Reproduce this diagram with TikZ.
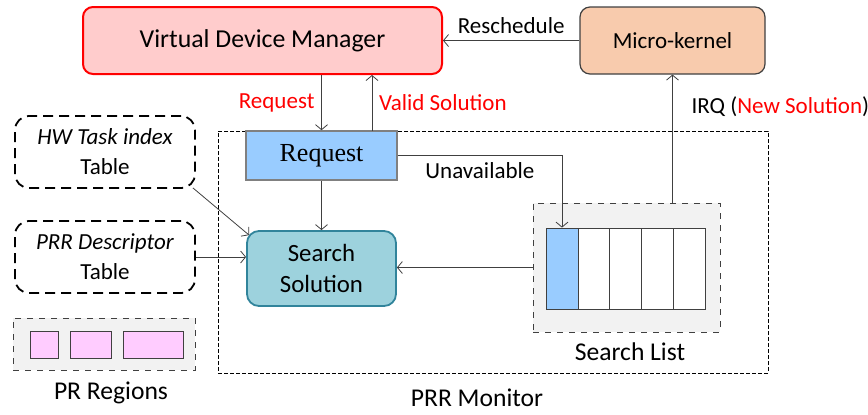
\documentclass[tikz,border=0pt]{standalone}
\usepackage{fontspec}
\setmainfont{Carlito}
\newfontfamily\reqfont{Liberation Serif}
\usetikzlibrary{arrows.meta,positioning}

\definecolor{vdmfill}{HTML}{FFCCCC}
\definecolor{kernfill}{HTML}{F8CBAD}
\definecolor{reqfill}{HTML}{99CCFF}
\definecolor{srchfill}{HTML}{9DD2DD}
\definecolor{srchline}{HTML}{31849B}
\definecolor{panelfill}{HTML}{F2F2F2}
\definecolor{prfill}{HTML}{FFCCFF}
\definecolor{linegray}{HTML}{404040}

\begin{document}
\begin{tikzpicture}[
        x=0.5pt, y=-0.5pt,
        font=\fontsize{11.5}{13}\selectfont,
        box/.style={rectangle, align=center, inner sep=0pt, font=\fontsize{11.5}{15}\selectfont},
        vdmbox/.style={box, draw=red, line width=1pt, fill=vdmfill, rounded corners=5pt,
            minimum width=179.5pt, minimum height=33.5pt, font=\fontsize{12.9}{15}\selectfont},
        kernbox/.style={box, draw=linegray, line width=0.6pt, fill=kernfill, rounded corners=5pt,
            minimum width=92.5pt, minimum height=33.5pt},
        reqbox/.style={box, draw=gray, line width=0.8pt, fill=reqfill,
            minimum width=75.5pt, minimum height=24.5pt, font=\reqfont\fontsize{13}{15}\selectfont},
        srchbox/.style={box, draw=srchline, line width=0.9pt, fill=srchfill, rounded corners=6pt,
            minimum width=74.5pt, minimum height=37.5pt, font=\fontsize{12.4}{15.5}\selectfont},
        tablebox/.style={box, draw, line width=0.9pt, dash pattern=on 5pt off 3pt, rounded corners=7pt,
            minimum width=90pt, minimum height=36pt},
        panel/.style={rectangle, draw=linegray, dashed, fill=panelfill, inner sep=0pt},
        prcell/.style={rectangle, draw=linegray, fill=prfill, inner sep=0pt, minimum height=13.5pt},
        listcell/.style={rectangle, draw=linegray, fill=white, inner sep=0pt,
            minimum width=15.9pt, minimum height=40.5pt},
        monitor/.style={rectangle, draw, dash pattern=on 2pt off 1pt, inner sep=0pt},
        caption/.style={font=\fontsize{12.8}{15}\selectfont},
        arrow/.style={draw=linegray, -{Straight Barb[length=2.5pt,width=6pt]}},
        redlabel/.style={text=red}
    ]
        \useasboundingbox (0,0) rectangle (868,414);

        % monitor and panels first, so they stay behind
        \node[monitor, minimum width=275pt, minimum height=121pt] (monitor) at (493,252) {};
        \node[caption] (monlabel) at (477,398) {PRR Monitor};

        \node[panel, minimum width=93.5pt, minimum height=64.5pt] (listpanel) at (626.5,267.5) {};
        \foreach \i in {0,...,4}
            \node[listcell] (cell\i) at ({562+31.8*\i},268.5) {};
        \node[listcell, fill=reqfill] at (cell0) {};
        \node[caption] (listlabel) at (630,352) {Search List};

        \node[panel, minimum width=91pt, minimum height=26pt] (prpanel) at (104,344) {};
        \node[prcell, minimum width=14pt] (pr1) at (44,344.5) {};
        \node[prcell, minimum width=20.5pt] (pr2) at (90.5,344.5) {};
        \node[prcell, minimum width=30pt] (pr3) at (153,344.5) {};
        \node[caption] (prlabel) at (111,393) {PR Regions};

        % main blocks
        \node[vdmbox] (vdm) at (262.5,40.5) {Virtual Device Manager};
        \node[kernbox] (kernel) at (672.5,40.5) {Micro-kernel};
        \node[reqbox] (request) at (321.5,155.5) {Request};
        \node[srchbox] (search) at (321.5,268.5) {Search\\Solution};
        \node[tablebox] (hwtable) at (105,152) {\textit{HW Task index}\\Table};
        \node[tablebox] (prrtable) at (105,257) {\textit{PRR Descriptor}\\Table};

        \coordinate (validfoot) at (372,131);

        \draw[arrow] (kernel) -- node[above] {Reschedule} (vdm);
        \draw[arrow] (request.north |- vdm.south) -- node[left, redlabel] {Request} (request.north);
        \draw[arrow] (validfoot) -- node[right, redlabel] {Valid Solution} (validfoot |- vdm.south);
        \draw[arrow] (request) -- (search);
        \draw[arrow] ([shift={(-3,-1)}]hwtable.south east) -- ([shift={(3,5)}]search.north west);
        \draw[arrow] (prrtable) -- (prrtable -| search.west);
        \draw[arrow] (request.east) -| node[pos=0.25, below] {Unavailable} (cell0.north);
        \draw[arrow] (listpanel.west) -- (listpanel.west -| search.east);
        \draw[arrow] (listpanel.north -| kernel) -- node[pos=0.75, right, xshift=6pt] {IRQ (\textcolor{red}{New Solution})} (kernel.south);
    \end{tikzpicture}
\end{document}
